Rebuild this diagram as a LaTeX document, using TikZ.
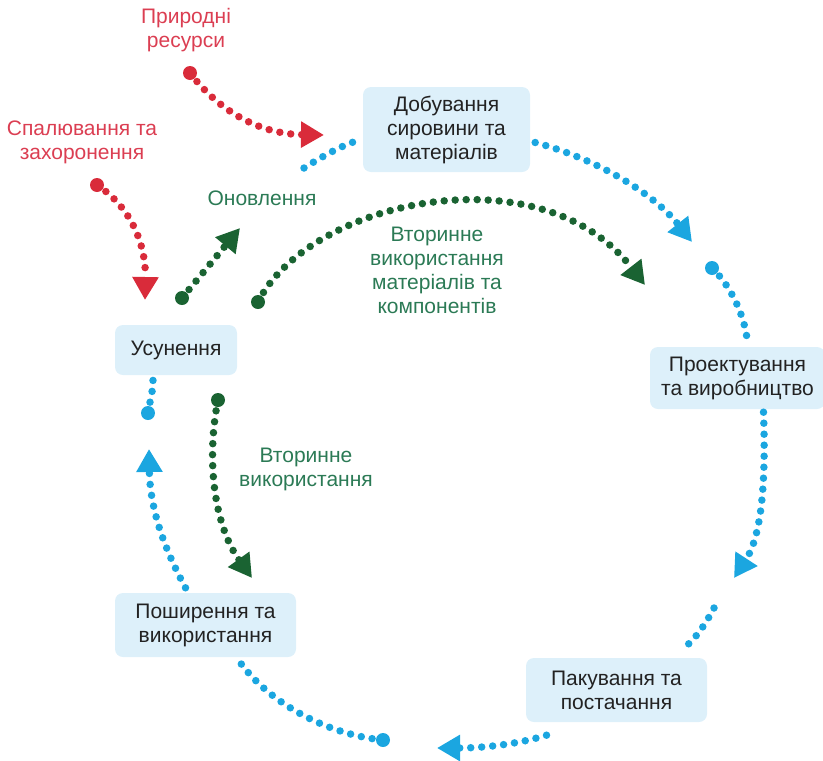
\documentclass[tikz,border=0pt]{standalone}
\usepackage{fontspec}
\setmainfont{Liberation Sans}
\usetikzlibrary{arrows.meta}
\definecolor{cblue}{HTML}{1BA6E0}
\definecolor{cred}{HTML}{D92B3A}
\definecolor{cdgreen}{HTML}{1A6332}
\definecolor{cgtext}{HTML}{2B7A55}
\definecolor{crtext}{HTML}{DB3E52}
\definecolor{boxfill}{HTML}{DDF0FA}
\definecolor{boxtext}{HTML}{222222}
\begin{document}
\begin{tikzpicture}[x=1pt,y=-1pt,
  stagebox/.style={fill=boxfill, rounded corners=8pt, align=center, text=boxtext,
    font=\fontsize{21}{24}\selectfont, inner sep=0pt},
  lbl/.style={align=center, font=\fontsize{21}{24}\selectfont, inner sep=0pt},
  dotline/.style={line width=7.5pt, line cap=round, dash pattern=on 0pt off 11pt},
  bl/.style={dotline, draw=cblue},
  rd/.style={dotline, draw=cred},
  gr/.style={dotline, draw=cdgreen},
  tip/.style={-{Triangle[length=23pt,width=25pt]}},
]
\useasboundingbox (0,0) rectangle (823,761);

% stage boxes
\node[stagebox, minimum width=167pt, minimum height=85pt] (dob) at (446.5,129.5) {Добування\\сировини та\\матеріалів};
\node[stagebox, minimum width=175pt, minimum height=62pt] (proekt) at (737.5,378) {Проектування\\та виробництво};
\node[stagebox, minimum width=181pt, minimum height=64pt] (pak) at (616.5,690) {Пакування та\\постачання};
\node[stagebox, minimum width=181pt, minimum height=64pt] (posh) at (205.5,625) {Поширення та\\використання};
\node[stagebox, minimum width=122pt, minimum height=50pt] (usun) at (176,350) {Усунення};

% labels
\node[lbl, text=crtext] (lres) at (186,30) {Природні\\ресурси};
\node[lbl, text=crtext] (lspal) at (82,142) {Спалювання та\\захоронення};
\node[lbl, text=cgtext] (lonov) at (262,198) {Оновлення};
\node[lbl, text=cgtext] (lvtm) at (437,270) {Вторинне\\використання\\матеріалів та\\компонентів};
\node[lbl, text=cgtext] (lvt) at (306,469) {Вторинне\\використання};

% free-end coordinates
\coordinate (b1s) at (304,168);
\coordinate (b2t) at (692,242);
\coordinate (b3s) at (712,268);
\coordinate (b4t) at (734,578);
\coordinate (b5s) at (714,608);
\coordinate (b6t) at (437,748);
\coordinate (b7s) at (383,740);
\coordinate (b8t) at (149,449);
\coordinate (b9s) at (148,413);
\coordinate (r1s) at (190,73);
\coordinate (r1t) at (324,135);
\coordinate (r2s) at (97,185);
\coordinate (r2t) at (145,300);
\coordinate (g1s) at (182,298);
\coordinate (g1t) at (240,228);
\coordinate (g2s) at (258,302);
\coordinate (g2t) at (645,285);
\coordinate (g3s) at (218,400);
\coordinate (g3t) at (252,578);

% blue cycle
\draw[bl] (b1s) .. controls (320,158) and (340,146) .. ([shift={(-5,11)}]dob.west);
\draw[bl, tip] ([shift={(5,13)}]dob.east) .. controls (600,160) and (655,195) .. (b2t);
\fill[cblue] (b3s) circle (7pt);
\draw[bl] (b3s) .. controls (730,285) and (745,315) .. ([shift={(10,-4)}]proekt.north);
\draw[bl, tip] ([shift={(26,3)}]proekt.south) .. controls (766,480) and (762,535) .. (b4t);
\draw[bl] (b5s) .. controls (705,625) and (695,640) .. ([shift={(65,-8)}]pak.north);
\draw[bl, tip] ([shift={(-70,13)}]pak.south) .. controls (515,745) and (480,748) .. (b6t);
\fill[cblue] (b7s) circle (7pt);
\draw[bl] (b7s) .. controls (330,735) and (270,705) .. ([shift={(33,3)}]posh.south);
\draw[bl, tip] ([shift={(-20,-5)}]posh.north) .. controls (165,550) and (150,510) .. (b8t);
\fill[cblue] (b9s) circle (7pt);
\draw[bl] (b9s) .. controls (150,400) and (153,392) .. ([shift={(-23,5)}]usun.south);

% red inputs
\fill[cred] (r1s) circle (7pt);
\draw[rd, tip] (r1s) .. controls (220,112) and (260,134) .. (r1t);
\fill[cred] (r2s) circle (7pt);
\draw[rd, tip] (r2s) .. controls (135,210) and (146,250) .. (r2t);

% green loops
\fill[cdgreen] (g1s) circle (7pt);
\draw[gr, tip] (g1s) -- (g1t);
\fill[cdgreen] (g2s) circle (7pt);
\draw[gr, tip] (g2s) .. controls (310,200) and (540,150) .. (g2t);
\fill[cdgreen] (g3s) circle (7pt);
\draw[gr, tip] (g3s) .. controls (206,460) and (214,525) .. (g3t);
\end{tikzpicture}
\end{document}
